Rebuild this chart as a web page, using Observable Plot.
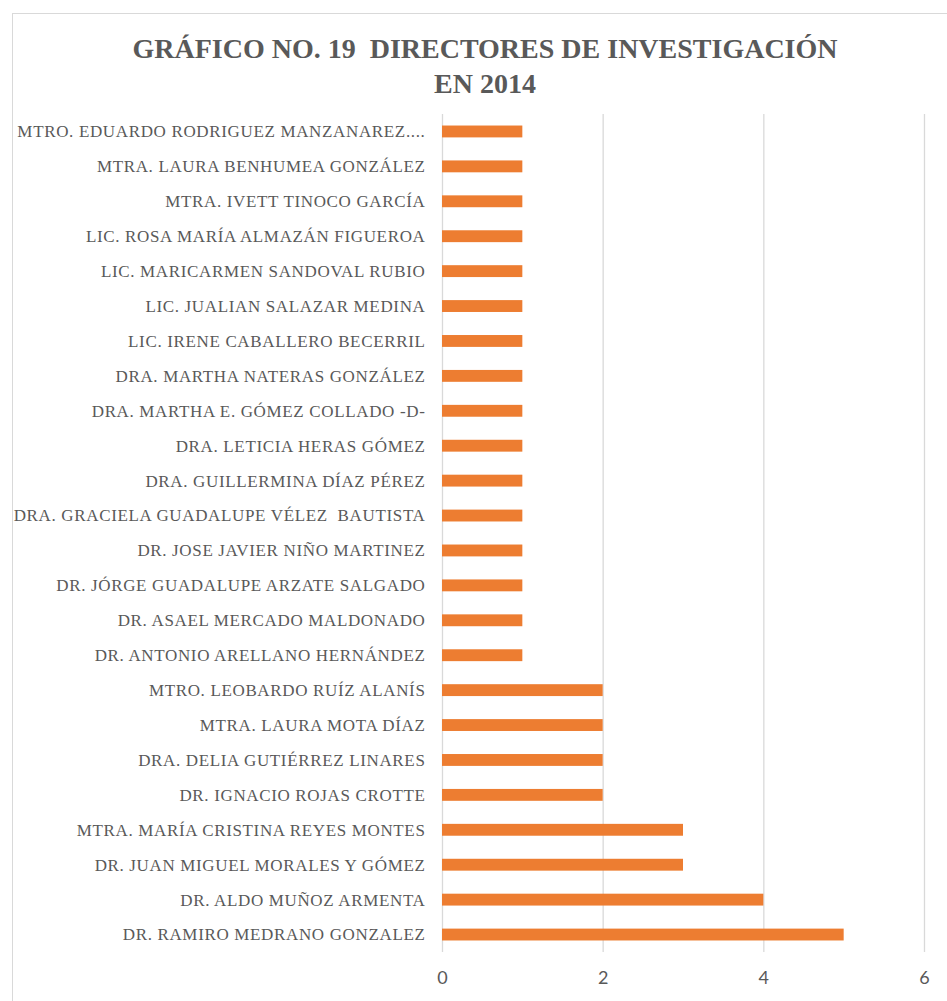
<!DOCTYPE html>
<html>
<head>
<meta charset="utf-8">
<script src="https://cdn.jsdelivr.net/npm/d3@7"></script>
<script src="https://cdn.jsdelivr.net/npm/@observablehq/plot@0.6"></script>
<style>
  html, body { margin: 0; padding: 0; background: #fff; overflow: hidden; }
  #frame { position: absolute; left: 12px; top: 13px; width: 1000px; height: 1100px; border: 1px solid #d9d9d9; box-sizing: border-box; }
  #title { position: absolute; left: 0; top: 31px; width: 970px; text-align: center; font-family: "Liberation Serif", serif; font-weight: bold; font-size: 28px; line-height: 35px; color: #595959; }
  #chart { position: absolute; left: 0; top: 100px; }
  #chart svg { overflow: visible; }
  #chart svg g[aria-label="y-axis tick label"] { letter-spacing: 0.65px; }
</style>
</head>
<body>
<div id="frame"></div>
<div id="title">GRÁFICO NO. 19&nbsp; DIRECTORES DE INVESTIGACIÓN<br>EN 2014</div>
<div id="chart"></div>
<script>
const names = [
  "MTRO. EDUARDO RODRIGUEZ MANZANAREZ....",
  "MTRA. LAURA BENHUMEA GONZÁLEZ",
  "MTRA. IVETT TINOCO GARCÍA",
  "LIC. ROSA MARÍA ALMAZÁN FIGUEROA",
  "LIC. MARICARMEN SANDOVAL RUBIO",
  "LIC. JUALIAN SALAZAR MEDINA",
  "LIC. IRENE CABALLERO BECERRIL",
  "DRA. MARTHA NATERAS GONZÁLEZ",
  "DRA. MARTHA E. GÓMEZ COLLADO -D-",
  "DRA. LETICIA HERAS GÓMEZ",
  "DRA. GUILLERMINA DÍAZ PÉREZ",
  "DRA. GRACIELA GUADALUPE VÉLEZ  BAUTISTA",
  "DR. JOSE JAVIER NIÑO MARTINEZ",
  "DR. JÓRGE GUADALUPE ARZATE SALGADO",
  "DR. ASAEL MERCADO MALDONADO",
  "DR. ANTONIO ARELLANO HERNÁNDEZ",
  "MTRO. LEOBARDO RUÍZ ALANÍS",
  "MTRA. LAURA MOTA DÍAZ",
  "DRA. DELIA GUTIÉRREZ LINARES",
  "DR. IGNACIO ROJAS CROTTE",
  "MTRA. MARÍA CRISTINA REYES MONTES",
  "DR. JUAN MIGUEL MORALES Y GÓMEZ",
  "DR. ALDO MUÑOZ ARMENTA",
  "DR. RAMIRO MEDRANO GONZALEZ"
];
const counts = [1,1,1,1,1,1,1,1,1,1,1,1,1,1,1,1,2,2,2,2,3,3,4,5];
const xTicks = [0, 2, 4, 6];

const data = names.map((n, i) => ({name: n, value: counts[i]}));

const chart = Plot.plot({
  width: 947,
  height: 901,
  marginLeft: 442,
  marginRight: 23,
  marginTop: 14,
  marginBottom: 49,
  style: {fontFamily: "'Liberation Serif', serif", color: "#595959", background: "transparent"},
  x: {domain: [0, 6], ticks: xTicks, label: null},
  y: {domain: names, label: null, paddingInner: 0.66, paddingOuter: 0.33, round: false},
  marks: [
    Plot.ruleX(xTicks, {stroke: "#d9d9d9", strokeWidth: 1.3}),
    Plot.barX(data, {x: "value", y: "name", fill: "#ED7D31"}),
    Plot.axisX({ticks: xTicks, tickFormat: d3.format("d"), tickSize: 0, tickPadding: 19, fontSize: 18, fontFamily: "Lato, 'Open Sans', sans-serif", fill: "#595959", label: null}),
    Plot.axisY({tickSize: 0, tickPadding: 17, fontSize: 17, fill: "#595959", label: null, textOverflow: null})
  ]
});
document.getElementById("chart").appendChild(chart);
</script>
</body>
</html>
